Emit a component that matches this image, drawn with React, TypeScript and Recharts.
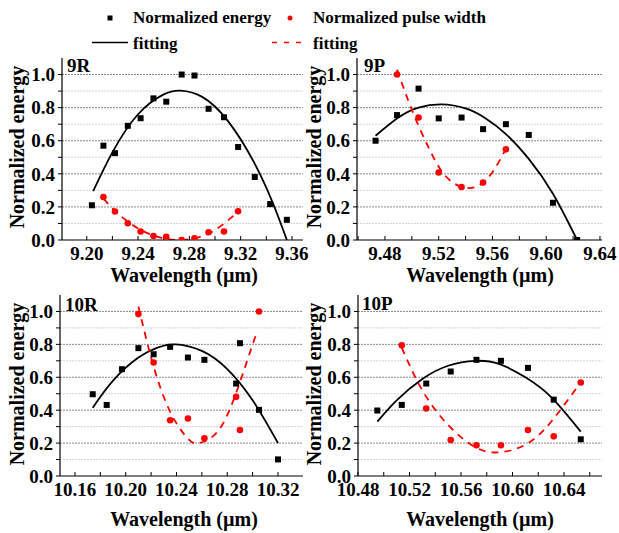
import { ComposedChart, Scatter, Line, XAxis, YAxis, ReferenceLine } from "recharts";

const FONT = '"Liberation Serif", "Times New Roman", Times, "DejaVu Serif", serif';
const RED = "#ff0000";
const MAJOR = "#8a8a8a";
const MINOR = "#d4d4d4";

// shared y axis
const Y_TICKS = [0, 0.1, 0.2, 0.3, 0.4, 0.5, 0.6, 0.7, 0.8, 0.9, 1.0];

// 9R band
const r9Ticks = [9.2, 9.22, 9.24, 9.26, 9.28, 9.3, 9.32, 9.34, 9.36];
const r9Wl = [9.204, 9.213, 9.222, 9.232, 9.242, 9.252, 9.262, 9.274, 9.284, 9.295, 9.307, 9.318, 9.331, 9.343, 9.356];
const r9Energy = [0.21, 0.57, 0.525, 0.69, 0.736, 0.856, 0.836, 1.0, 0.994, 0.793, 0.742, 0.562, 0.381, 0.217, 0.122];
const r9PulseWl = [9.213, 9.222, 9.232, 9.242, 9.252, 9.262, 9.274, 9.284, 9.295, 9.307, 9.318];
const r9Pulse = [0.26, 0.172, 0.101, 0.051, 0.024, 0.02, 0.0, 0.01, 0.047, 0.051, 0.174];
const r9FitEWl = [9.205, 9.22, 9.24, 9.26, 9.273, 9.29, 9.31, 9.33, 9.345, 9.356];
const r9FitE = [0.295, 0.53, 0.76, 0.88, 0.903, 0.865, 0.72, 0.475, 0.225, 0.0];
const r9FitPWl = [9.213, 9.225, 9.24, 9.255, 9.27, 9.285, 9.3, 9.318];
const r9FitP = [0.25, 0.155, 0.07, 0.02, 0.0, 0.012, 0.06, 0.17];

// 9P band
const p9Ticks = [9.46, 9.48, 9.5, 9.52, 9.54, 9.56, 9.58, 9.6, 9.62, 9.64];
const p9Wl = [9.473, 9.489, 9.505, 9.52, 9.537, 9.553, 9.57, 9.587, 9.605, 9.623];
const p9Energy = [0.6, 0.755, 0.915, 0.735, 0.74, 0.67, 0.7, 0.635, 0.225, 0.0];
const p9PulseWl = [9.489, 9.505, 9.52, 9.537, 9.553, 9.57];
const p9Pulse = [1.0, 0.74, 0.408, 0.32, 0.347, 0.548];
const p9FitEWl = [9.473, 9.49, 9.505, 9.522, 9.54, 9.555, 9.57, 9.587, 9.605, 9.623];
const p9FitE = [0.63, 0.74, 0.8, 0.82, 0.795, 0.735, 0.64, 0.49, 0.28, 0.0];
const p9FitPWl = [9.489, 9.497, 9.505, 9.513, 9.521, 9.53, 9.54, 9.55, 9.56, 9.57];
const p9FitP = [1.03, 0.85, 0.69, 0.55, 0.43, 0.35, 0.315, 0.33, 0.41, 0.55];

// 10R band
const r10Ticks = [10.16, 10.18, 10.2, 10.22, 10.24, 10.26, 10.28, 10.3, 10.32];
const r10Wl = [10.174, 10.185, 10.197, 10.21, 10.222, 10.235, 10.249, 10.262, 10.287, 10.29, 10.305, 10.32];
const r10Energy = [0.497, 0.432, 0.649, 0.777, 0.74, 0.785, 0.72, 0.706, 0.562, 0.807, 0.402, 0.101];
const r10PulseWl = [10.21, 10.222, 10.235, 10.249, 10.262, 10.287, 10.29, 10.305];
const r10Pulse = [0.984, 0.69, 0.339, 0.349, 0.229, 0.481, 0.28, 1.0];
const r10FitEWl = [10.174, 10.19, 10.21, 10.225, 10.239, 10.26, 10.28, 10.3, 10.32];
const r10FitE = [0.415, 0.58, 0.72, 0.78, 0.8, 0.76, 0.65, 0.46, 0.2];
const r10FitPWl = [10.21, 10.22, 10.23, 10.24, 10.25, 10.258, 10.27, 10.28, 10.29, 10.3, 10.304];
const r10FitP = [1.03, 0.72, 0.48, 0.32, 0.22, 0.2, 0.25, 0.37, 0.57, 0.8, 0.88];

// 10P band
const p10Ticks = [10.48, 10.5, 10.52, 10.54, 10.56, 10.58, 10.6, 10.62, 10.64, 10.66];
const p10Wl = [10.495, 10.514, 10.533, 10.552, 10.572, 10.591, 10.612, 10.632, 10.653];
const p10Energy = [0.398, 0.432, 0.562, 0.635, 0.706, 0.7, 0.657, 0.464, 0.223];
const p10PulseWl = [10.514, 10.533, 10.552, 10.572, 10.591, 10.612, 10.632, 10.653];
const p10Pulse = [0.795, 0.41, 0.219, 0.187, 0.187, 0.28, 0.241, 0.568];
const p10FitEWl = [10.495, 10.51, 10.53, 10.55, 10.571, 10.59, 10.61, 10.63, 10.653];
const p10FitE = [0.33, 0.46, 0.59, 0.67, 0.7, 0.68, 0.6, 0.48, 0.27];
const p10FitPWl = [10.514, 10.53, 10.55, 10.57, 10.588, 10.61, 10.63, 10.653];
const p10FitP = [0.78, 0.52, 0.31, 0.18, 0.143, 0.19, 0.33, 0.57];

const zip = (xs: number[], ys: number[]) => xs.map((x, i) => ({ x, y: ys[i] }));

const fmtX = (v: number) => (Math.round(v * 100) % 4 === 0 ? v.toFixed(2) : "");
const fmtY = (v: number) => (Math.round(v * 10) % 2 === 0 ? v.toFixed(1) : "");

const tickStyle = { fill: "#000", fontSize: 19, fontWeight: 700, fontFamily: FONT };

const Square = (p: any) => <rect x={p.cx - 3} y={p.cy - 3} width={6} height={6} fill="#000" />;
const Dot = (p: any) => <circle cx={p.cx} cy={p.cy} r={3.3} fill={RED} />;

type Pt = { x: number; y: number };

function Panel({ plot, domain, ticks, energy, pulse, fitE, fitP }: {
  plot: [number, number, number, number]; // left, top, right, bottom in page px
  domain: [number, number];
  ticks: number[];
  energy: Pt[];
  pulse: Pt[];
  fitE: Pt[];
  fitP: Pt[];
}) {
  const [l, t, r, b] = plot;
  const W = r - l + 70;
  const H = b - t + 50;
  return (
    <div style={{ position: "absolute", left: l - 50, top: t - 10 }}>
      <ComposedChart width={W} height={H} margin={{ top: 10, right: 20, bottom: 10, left: 5 }}>
        <XAxis
          type="number"
          dataKey="x"
          domain={domain}
          allowDataOverflow
          ticks={ticks}
          interval={0}
          tickFormatter={fmtX}
          tick={tickStyle}
          tickSize={-4}
          tickMargin={11}
          height={30}
          axisLine={{ stroke: "#000", strokeWidth: 1.2 }}
          tickLine={{ stroke: "#000" }}
        />
        <YAxis
          type="number"
          dataKey="y"
          domain={[0, 1.1]}
          allowDataOverflow
          ticks={Y_TICKS}
          interval={0}
          tickFormatter={fmtY}
          tick={tickStyle}
          tickSize={4}
          tickMargin={3}
          width={45}
          axisLine={{ stroke: "#000", strokeWidth: 1.2 }}
          tickLine={{ stroke: "#000" }}
        />
        {Y_TICKS.slice(1).map((v) => (
          <ReferenceLine
            key={v}
            y={v}
            stroke={Math.round(v * 10) % 2 === 0 ? MAJOR : MINOR}
            strokeDasharray="2 1"
          />
        ))}
        <Line data={fitE} dataKey="y" type="natural" stroke="#000" strokeWidth={1.8} dot={false} isAnimationActive={false} />
        <Line data={fitP} dataKey="y" type="natural" stroke={RED} strokeWidth={1.8} strokeDasharray="7 6" dot={false} isAnimationActive={false} />
        <Scatter data={energy} dataKey="y" shape={Square} isAnimationActive={false} />
        <Scatter data={pulse} dataKey="y" shape={Dot} isAnimationActive={false} />
      </ComposedChart>
    </div>
  );
}

export default function App() {
  return (
    <div style={{ position: "absolute", left: 0, top: 0, width: 619, height: 533, background: "#fff", fontFamily: FONT }}>
      <Panel
        plot={[62, 58, 303, 240]}
        domain={[9.1807, 9.3686]}
        ticks={r9Ticks}
        energy={zip(r9Wl, r9Energy)}
        pulse={zip(r9PulseWl, r9Pulse)}
        fitE={zip(r9FitEWl, r9FitE)}
        fitP={zip(r9FitPWl, r9FitP)}
      />
      <Panel
        plot={[357, 58, 602, 240]}
        domain={[9.4592, 9.6415]}
        ticks={p9Ticks}
        energy={zip(p9Wl, p9Energy)}
        pulse={zip(p9PulseWl, p9Pulse)}
        fitE={zip(p9FitEWl, p9FitE)}
        fitP={zip(p9FitPWl, p9FitP)}
      />
      <Panel
        plot={[60, 295, 303, 476]}
        domain={[10.1482, 10.3397]}
        ticks={r10Ticks}
        energy={zip(r10Wl, r10Energy)}
        pulse={zip(r10PulseWl, r10Pulse)}
        fitE={zip(r10FitEWl, r10FitE)}
        fitP={zip(r10FitPWl, r10FitP)}
      />
      <Panel
        plot={[358, 295, 602, 476]}
        domain={[10.48, 10.6695]}
        ticks={p10Ticks}
        energy={zip(p10Wl, p10Energy)}
        pulse={zip(p10PulseWl, p10Pulse)}
        fitE={zip(p10FitEWl, p10FitE)}
        fitP={zip(p10FitPWl, p10FitP)}
      />
      <svg
        width={619}
        height={533}
        style={{ position: "absolute", left: 0, top: 0, pointerEvents: "none", fontFamily: FONT, fontWeight: 700 }}
      >
        <rect x={107.5} y={15.5} width={5} height={5} fill="#000" />
        <text x={133} y={23} fontSize={17}>Normalized energy</text>
        <circle cx={290} cy={18} r={2.5} fill={RED} />
        <text x={313} y={23} fontSize={17}>Normalized pulse width</text>
        <line x1={92} x2={128} y1={42.5} y2={42.5} stroke="#000" strokeWidth={1.5} />
        <text x={133} y={49} fontSize={17}>fitting</text>
        <line x1={272} x2={304} y1={42.5} y2={42.5} stroke={RED} strokeWidth={1.5} strokeDasharray="5 7" />
        <text x={313} y={49} fontSize={17}>fitting</text>

        <text x={67} y={72} fontSize={19}>9R</text>
        <text x={364} y={72} fontSize={19}>9P</text>
        <text x={65} y={311} fontSize={19}>10R</text>
        <text x={362} y={310} fontSize={19}>10P</text>

        <text transform="translate(24,147) rotate(-90)" textAnchor="middle" fontSize={20}>Normalized energy</text>
        <text transform="translate(321,147) rotate(-90)" textAnchor="middle" fontSize={20}>Normalized energy</text>
        <text transform="translate(24,384) rotate(-90)" textAnchor="middle" fontSize={20}>Normalized energy</text>
        <text transform="translate(321,384) rotate(-90)" textAnchor="middle" fontSize={20}>Normalized energy</text>

        <text x={184} y={282} textAnchor="middle" fontSize={20}>Wavelength (µm)</text>
        <text x={480} y={282} textAnchor="middle" fontSize={20}>Wavelength (µm)</text>
        <text x={184} y={526} textAnchor="middle" fontSize={20}>Wavelength (µm)</text>
        <text x={480} y={526} textAnchor="middle" fontSize={20}>Wavelength (µm)</text>
      </svg>
    </div>
  );
}
